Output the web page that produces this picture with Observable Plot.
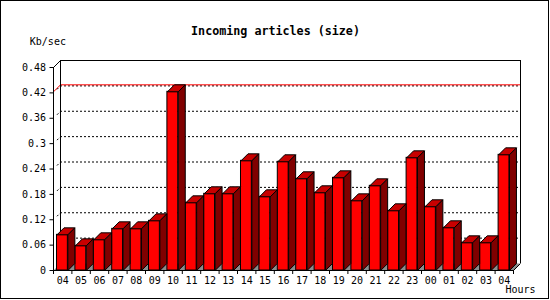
<!DOCTYPE html>
<html>
<head>
<meta charset="utf-8">
<script src="https://cdn.jsdelivr.net/npm/d3@7"></script>
<script src="https://cdn.jsdelivr.net/npm/@observablehq/plot@0.6"></script>
<style>
  html, body { margin: 0; padding: 0; background: #fff; }
  #wrap { position: relative; width: 550px; height: 300px; }
  #border { position: absolute; left: 0; top: 0; width: 547px; height: 297px; border: 1px solid #000; pointer-events: none; }
  svg { display: block; }
</style>
</head>
<body>
<div id="wrap"><div id="chart"></div><div id="border"></div></div>
<script>
// ---- data ----
const hours = ["04","05","06","07","08","09","10","11","12","13","14","15","16","17","18","19","20","21","22","23","00","01","02","03","04"];
const values = [0.0843,0.0583,0.0725,0.0985,0.0985,0.1174,0.4225,0.1600,0.1813,0.1813,0.2593,0.1742,0.2570,0.2168,0.1837,0.2191,0.1647,0.2002,0.1411,0.2664,0.1506,0.1009,0.0654,0.0654,0.2735];
const yTicks = [0,0.06,0.12,0.18,0.24,0.3,0.36,0.42,0.48];
const yLabels = ["0","0.06","0.12","0.18","0.24","0.3","0.36","0.42","0.48"];
const title = "Incoming articles (size)";
const yUnit = "Kb/sec";
const xUnit = "Hours";

// ---- layout ----
const W = 550, H = 300, mL = 53, mR = 37, mT = 67, mB = 30, depth = 7;
const n = hours.length, yMax = 0.48;
const kx = (W - mL - mR) / n, ky = (H - mT - mB) / yMax;
const DX = depth / kx, DY = depth / ky;   // depth expressed in data units
const b0 = 0.19, b1 = 0.78;               // bar front within its band
const idx = d3.range(n);
const maxV = d3.max(values);

const topPts = idx.flatMap(i => {
  const v = values[i], a = i + b0, b = i + b1;
  return [[a, v], [b, v], [b + DX, v + DY], [a + DX, v + DY], [a, v]].map(([x, y]) => ({i, x, y}));
});
const sidePts = idx.flatMap(i => {
  const v = values[i], b = i + b1;
  return [[b, 0], [b, v], [b + DX, v + DY], [b + DX, DY], [b, 0]].map(([x, y]) => ({i, x, y}));
});
const floorPts = [[0, 0], [n, 0], [n + DX, DY], [DX, DY], [0, 0]].map(([x, y]) => ({x, y}));
const midTicks = yTicks.filter(v => v > 0 && v < yMax);

const plot = Plot.plot({
  width: W, height: H,
  marginLeft: mL, marginRight: mR, marginTop: mT, marginBottom: mB,
  x: {type: "linear", domain: [0, n]},
  y: {type: "linear", domain: [0, yMax]},
  style: {fontFamily: "'DejaVu Sans Mono', monospace", fontSize: "10px", color: "#000", background: "transparent", overflow: "visible"},
  marks: [
    // back wall gridlines
    Plot.ruleY(midTicks, {x1: () => 0, x2: () => n, dx: depth, dy: -depth, stroke: "#000", strokeWidth: 1, strokeDasharray: "2,2"}),
    // max line
    Plot.ruleY([maxV], {x1: () => 0, x2: () => n, dx: depth, dy: -depth, stroke: "#f00", strokeWidth: 1}),
    Plot.link([maxV], {x1: () => 0, y1: d => d, x2: () => DX, y2: d => d + DY, stroke: "#f00", strokeWidth: 1}),
    // back wall edges
    Plot.ruleY([yMax], {x1: () => 0, x2: () => n, dx: depth, dy: -depth, stroke: "#000", strokeWidth: 1}),
    Plot.ruleX([0, n], {y1: () => 0, y2: () => yMax, dx: depth, dy: -depth, stroke: "#000", strokeWidth: 1}),
    // left wall
    Plot.link([yMax], {x1: () => 0, y1: d => d, x2: () => DX, y2: d => d + DY, stroke: "#000", strokeWidth: 1}),
    Plot.link(midTicks, {x1: () => DX * 0.5, y1: d => d + DY * 0.5, x2: () => DX, y2: d => d + DY, stroke: "#000", strokeWidth: 1, strokeDasharray: "2,2"}),
    Plot.ruleX([0], {y1: () => 0, y2: () => yMax, stroke: "#000", strokeWidth: 1}),
    // floor
    Plot.line(floorPts, {x: "x", y: "y", fill: "#8c8c8c", stroke: "none", curve: "linear"}),
    Plot.link([n], {x1: d => d, y1: () => 0, x2: d => d + DX, y2: () => DY, stroke: "#000", strokeWidth: 1}),
    // bars
    Plot.rect(idx, {x1: i => i + b0, x2: i => i + b1, y1: () => 0, y2: i => values[i], fill: "#ff0000", stroke: "#000", strokeWidth: 1}),
    Plot.line(topPts, {x: "x", y: "y", z: "i", fill: "#c80000", stroke: "#000", strokeWidth: 1, strokeLinejoin: "miter", strokeLinecap: "butt", curve: "linear"}),
    Plot.line(sidePts, {x: "x", y: "y", z: "i", fill: "#800000", stroke: "#000", strokeWidth: 1, strokeLinejoin: "miter", strokeLinecap: "butt", curve: "linear"}),
    // x baseline
    Plot.ruleY([0], {x1: () => 0, x2: () => n, stroke: "#000", strokeWidth: 1}),
    // axes
    Plot.axisY(yTicks, {anchor: "left", tickSize: 3.5, tickPadding: 4, tickFormat: d => yLabels[yTicks.indexOf(d)], label: null}),
    Plot.axisX(d3.range(n + 1), {anchor: "bottom", tickSize: 4, tickFormat: () => "", label: null}),
    Plot.axisX(idx.map(i => i + 0.5), {anchor: "bottom", tickSize: 0, tickPadding: 6, tickFormat: d => hours[Math.floor(d)], label: null}),
    // texts
    Plot.text([title], {frameAnchor: "top-left", dx: 275 - mL, dy: -40.7, textAnchor: "middle", fontWeight: "bold", fontSize: 11.7, fill: "#000"}),
    Plot.text([yUnit], {frameAnchor: "top-left", dx: -23.7, dy: -29.7, textAnchor: "start", fill: "#000"}),
    Plot.text([xUnit], {frameAnchor: "bottom-right", dx: -8, dy: 22.8, textAnchor: "start", fill: "#000"})
  ]
});
document.getElementById("chart").appendChild(plot);
</script>
</body>
</html>
